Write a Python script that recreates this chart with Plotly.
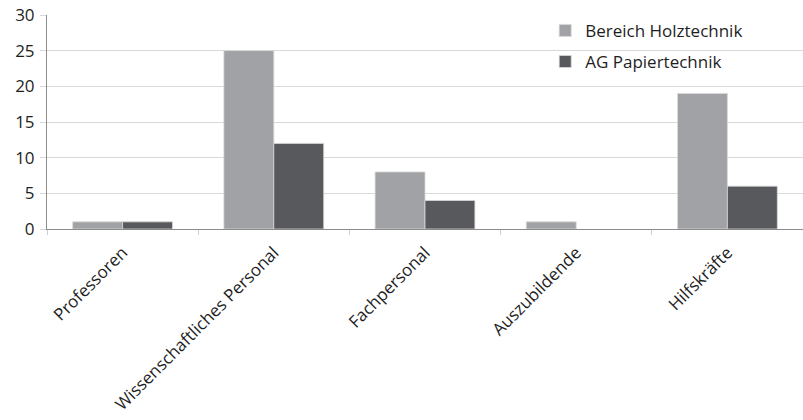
import plotly.graph_objects as go

categories = ["Professoren", "Wissenschaftliches Personal", "Fachpersonal", "Auszubildende", "Hilfskräfte"]
holz = [1, 25, 8, 1, 19]
papier = [1, 12, 4, 0, 6]
series_names = ["Bereich Holztechnik", "AG Papiertechnik"]
y_ticks = [0, 5, 10, 15, 20, 25, 30]

FONT = "Open Sans"
FS = 17


def outline(vals):
    return [0.8 if v > 0 else 0 for v in vals]


fig = go.Figure()
fig.add_trace(go.Bar(x=categories, y=holz, name=series_names[0], legendgroup="a",
                     marker=dict(color="#a0a2a5", line=dict(color="#d8d8d8", width=outline(holz)))))
fig.add_trace(go.Bar(x=categories, y=papier, name=series_names[1], legendgroup="b",
                     marker=dict(color="#58595c", line=dict(color="#d8d8d8", width=outline(papier)))))

fig.update_layout(
    width=803, height=420,
    margin=dict(l=47, r=0, t=15, b=191),
    paper_bgcolor="white", plot_bgcolor="white",
    barmode="group", bargap=0.34, bargroupgap=0,
    font=dict(family=FONT, size=FS, color="#1e1e1e"),
    showlegend=True,
    legend=dict(x=0.659, y=1.01, xanchor="left", yanchor="top",
                bgcolor="rgba(0,0,0,0)", traceorder="grouped", tracegroupgap=6,
                font=dict(family=FONT, size=FS, color="#1e1e1e"),
                itemwidth=30),
)
fig.update_xaxes(
    type="category", tickangle=-45, tickson="boundaries",
    ticks="outside", ticklen=5, tickcolor="#d0d0d0",
    showline=True, linecolor="#8c8c8c", linewidth=1,
    showgrid=False, tickfont=dict(family=FONT, size=FS, color="#1e1e1e"),
    ticklabelstandoff=6,
)
fig.update_yaxes(
    range=[0, 30], tickvals=y_ticks,
    ticks="outside", ticklen=6, tickcolor="#d9d9d9",
    showline=True, linecolor="#8c8c8c", linewidth=1,
    showgrid=True, gridcolor="#d9d9d9", gridwidth=1,
    zeroline=False, tickfont=dict(family=FONT, size=FS, color="#1e1e1e"),
    ticklabelstandoff=2,
)

fig.write_html("out.html")
